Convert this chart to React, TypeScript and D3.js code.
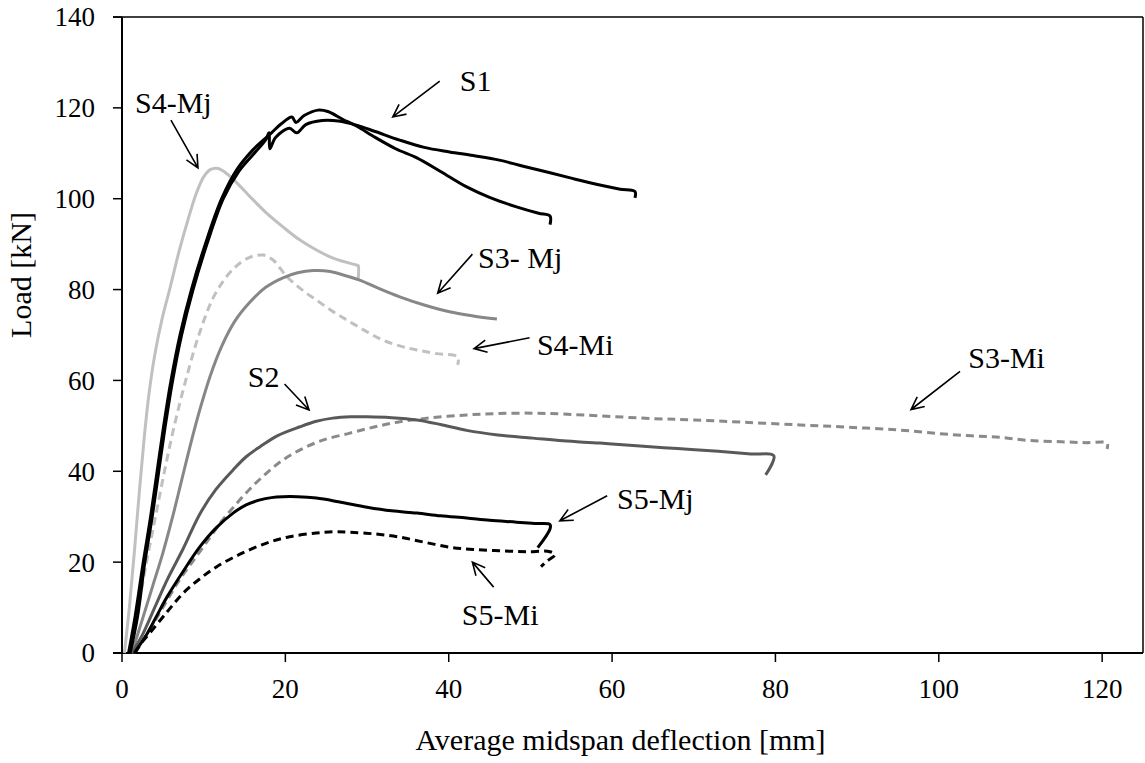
import React from "react";
import * as d3 from "d3";

type P = [number, number];

const xTicks = [0, 20, 40, 60, 80, 100, 120];
const yTicks = [0, 20, 40, 60, 80, 100, 120, 140];

const S1a: P[] = [[0.8,0],[1.6,8],[2.6,20],[3.5,30],[4.3,40],[5.1,50],[6,60],[7.1,70],[8.5,80],[10.2,90],[12.2,100],[14.1,106.5],[16,110.7],[17.3,112.9],[18.3,114.5],[19.5,116.5],[20.8,118],[21.3,116.8],[22.3,118.3],[24,119.5],[25.2,119.2],[27,117.5],[28.7,116],[31,113.5],[33.5,111],[36.1,109],[39,106],[42.2,102.6],[45,100.3],[48.3,98.2],[51,96.8],[52.4,96.2],[52.4,94.3]];
const S1b: P[] = [[1,0],[1.9,8],[2.8,20],[3.7,30],[4.5,40],[5.3,50],[6.2,60],[7.3,70],[8.7,80],[10.4,90],[12.4,100],[14.3,106],[16.2,110],[17.6,113],[18,114.5],[18.1,111],[18.8,113.5],[20.5,115.5],[21.4,114.5],[22.5,116.3],[24.5,117.2],[26.5,117.1],[28.7,116.2],[31,114.8],[34,112.9],[37,111.3],[40.1,110.3],[43,109.5],[46.2,108.5],[49,107.2],[52.4,105.7],[55.5,104.3],[58.5,103],[61,102.1],[62.8,101.6],[62.8,100.2]];
const S4Mj: P[] = [[0.3,0],[0.9,10],[1.5,22],[2.1,35],[2.7,47],[3.3,57],[4,65.5],[4.9,73.5],[5.9,80.5],[7,88.5],[8.1,95.5],[9.1,101.2],[10,104.8],[10.8,106.4],[11.6,106.7],[12.4,106.1],[14,103.6],[15.7,100.4],[17.6,97],[19.7,93.8],[21.7,91],[23.8,88.7],[26,86.8],[28.7,85.4],[28.9,85.3],[28.9,82]];
const S4Mi: P[] = [[1,0],[2,10],[3,20],[4.1,30],[5.2,40],[6.4,50],[7.8,60],[9.5,70.5],[11.4,79],[13.6,84.5],[15.5,87],[17.3,87.6],[18.5,86.5],[20.2,82.8],[22,80],[23.8,77.7],[25.8,75.2],[27.9,72.9],[30,70.7],[31.9,68.9],[34,67.6],[36.1,66.7],[38.5,65.9],[41.1,65.2],[41.1,63.4]];
const S3Mj: P[] = [[1.2,0],[2.6,8],[3.8,15],[5,22],[6.2,30],[7.3,38],[8.4,46],[9.6,54],[10.8,61],[12.2,67.5],[13.8,73],[15.7,77.3],[17.6,80.5],[19.7,82.6],[21.5,83.7],[23.4,84.2],[25.5,84],[27.3,83.1],[29.1,82.1],[31.5,80.2],[34,78.4],[37,76.6],[40.1,75.1],[43,74.2],[45.9,73.5]];
const S2: P[] = [[1.2,0],[2.5,4],[4,10],[5.5,16],[7.5,23],[9.5,30.5],[11.5,36],[13.6,40.3],[15.2,43.2],[16.9,45.4],[19,47.8],[21.8,49.8],[23.8,51],[25.8,51.7],[28,52],[30,52],[33,51.8],[36.1,51.3],[39,50.3],[42.2,49],[46,48],[50.3,47.3],[54,46.7],[58.5,46.2],[63,45.6],[68,45],[73,44.4],[77,43.8],[79.8,43.4],[78.8,39.2]];
const S3Mi: P[] = [[1.5,0],[3,4],[5,10],[7,16],[9,21],[10.8,25.5],[12.2,29],[13.6,32],[15.6,36],[17.7,39.6],[19.7,42.5],[21.8,44.7],[24.5,46.8],[27.9,48.4],[31,49.8],[34,50.9],[38,51.8],[42.2,52.4],[46,52.7],[50.3,52.8],[54,52.6],[58.5,52.2],[65,51.6],[70,51.3],[76,50.8],[83,50.2],[89,49.7],[95,49.1],[100,48.3],[104,47.8],[107.4,47.5],[111,46.8],[115,46.5],[118,46.3],[120.6,46.2],[120.6,44.9]];
const S5Mj: P[] = [[1.5,0],[3,4],[4.2,8],[5.5,12.3],[7.5,18],[9.5,23.3],[11.5,27.5],[13.6,30.8],[15.2,32.6],[16.9,33.7],[18.3,34.2],[19.7,34.4],[21.5,34.4],[23.8,34.1],[26.5,33.3],[30,32.1],[33,31.3],[36.1,30.8],[39,30.2],[42.2,29.7],[45,29.2],[48.3,28.8],[50.5,28.5],[52.4,28.3],[52.4,27.3],[50.9,23.2]];
const S5Mi: P[] = [[1.6,0],[2.5,2.5],[3.4,4.4],[5.5,9],[7.5,13.2],[9.5,16.3],[11.6,19],[14.5,21.8],[17.7,24.2],[20.5,25.6],[23.8,26.4],[26,26.7],[27.9,26.6],[31,26.2],[34,25.5],[37,24.4],[40.1,23.3],[43,22.8],[46.2,22.5],[49.5,22.3],[52.4,22.3],[53,21.6],[52.1,20.3],[51.3,19]];

const series = [
  { name: "S3-Mi", data: S3Mi, color: "#8a8a8a", width: 3, dash: "8,5" },
  { name: "S4-Mi", data: S4Mi, color: "#c0c0c0", width: 3, dash: "8,5" },
  { name: "S4-Mj", data: S4Mj, color: "#c0c0c0", width: 3, dash: "" },
  { name: "S3-Mj", data: S3Mj, color: "#878787", width: 3, dash: "" },
  { name: "S2", data: S2, color: "#595959", width: 3, dash: "" },
  { name: "S5-Mi", data: S5Mi, color: "#000000", width: 3, dash: "8,5" },
  { name: "S5-Mj", data: S5Mj, color: "#000000", width: 3, dash: "" },
  { name: "S1a", data: S1a, color: "#000000", width: 3, dash: "" },
  { name: "S1b", data: S1b, color: "#000000", width: 3, dash: "" },
];

// annotations in data units: label position, arrow tail, arrow head
const labels = ["S1", "S4-Mj", "S3- Mj", "S4-Mi", "S3-Mi", "S2", "S5-Mj", "S5-Mi"];
const labelPos: P[] = [[41.35,123.7],[1.59,118.9],[43.6,84.7],[50.8,65.7],[103.6,62.8],[15.4,58.6],[60.6,31.7],[41.6,6.2]];
const arrowTail: P[] = [[38.9,125.9],[5.99,117.3],[42.9,87.8],[49.9,69.4],[102.6,62.0],[19.9,59.2],[59.4,34.6],[45.5,14.5]];
const arrowHead: P[] = [[33.15,118.0],[9.3,106.8],[38.65,79.2],[43.1,67.0],[96.6,53.6],[22.9,53.5],[53.6,29.1],[42.9,20.0]];

const W = 1145, H = 763;
const M = { left: 122, top: 17, right: 1143, bottom: 653 };
const FONT = "'Liberation Serif', 'Times New Roman', serif";

export default function App() {
  const x = d3.scaleLinear().domain([0, 125]).range([M.left, M.right]);
  const y = d3.scaleLinear().domain([0, 140]).range([M.bottom, M.top]);
  const line = d3.line<P>().x(d => x(d[0])).y(d => y(d[1])).curve(d3.curveCatmullRom.alpha(0.5));

  const arrowPaths = arrowTail.map((t, i) => {
    const h = arrowHead[i];
    const tx = x(t[0]), ty = y(t[1]), hx = x(h[0]), hy = y(h[1]);
    const ang = Math.atan2(ty - hy, tx - hx);
    const L = 14, a = 0.45;
    const p1 = [hx + L * Math.cos(ang + a), hy + L * Math.sin(ang + a)];
    const p2 = [hx + L * Math.cos(ang - a), hy + L * Math.sin(ang - a)];
    return `M${tx},${ty}L${hx},${hy}M${p1[0]},${p1[1]}L${hx},${hy}L${p2[0]},${p2[1]}`;
  });

  return (
    <svg width={W} height={H} style={{ position: "absolute", left: 0, top: 0, background: "#fff" }} fontFamily={FONT}>
      <rect x={0} y={0} width={W} height={H} fill="#fff" />
      {/* frame */}
      <line x1={M.left - 9} x2={M.right} y1={M.top} y2={M.top} stroke="#000" strokeWidth={1.5} />
      <line x1={M.right} x2={M.right} y1={M.top} y2={M.bottom} stroke="#000" strokeWidth={1.5} />
      {/* axes */}
      <line x1={M.left} x2={M.left} y1={M.top} y2={M.bottom} stroke="#000" strokeWidth={2} />
      <line x1={M.left - 9} x2={M.right} y1={M.bottom} y2={M.bottom} stroke="#000" strokeWidth={2} />
      {yTicks.map(t => (
        <g key={"y" + t}>
          <line x1={M.left - 9} x2={M.left} y1={y(t)} y2={y(t)} stroke="#000" strokeWidth={1.5} />
          <text x={M.left - 27} y={y(t)} dy="0.35em" textAnchor="end" fontSize={27}>{t}</text>
        </g>
      ))}
      {xTicks.map(t => (
        <g key={"x" + t}>
          <line x1={x(t)} x2={x(t)} y1={M.bottom} y2={M.bottom + 9} stroke="#000" strokeWidth={1.5} />
          <text x={x(t)} y={M.bottom + 45} textAnchor="middle" fontSize={27}>{t}</text>
        </g>
      ))}
      <text x={(M.left + M.right) / 2 - 12} y={750} textAnchor="middle" fontSize={30}>Average midspan deflection [mm]</text>
      <text transform={`translate(31,${(M.top + M.bottom) / 2 - 60}) rotate(-90)`} textAnchor="middle" fontSize={30}>Load [kN]</text>
      {/* series */}
      {series.map(s => (
        <path key={s.name} d={line(s.data) || ""} fill="none" stroke={s.color} strokeWidth={s.width}
          strokeDasharray={s.dash || undefined} strokeLinejoin="round" />
      ))}
      {/* annotations */}
      {arrowPaths.map((d, i) => (
        <path key={"a" + i} d={d} fill="none" stroke="#000" strokeWidth={1.6} />
      ))}
      {labels.map((l, i) => (
        <text key={"l" + i} x={x(labelPos[i][0])} y={y(labelPos[i][1])} fontSize={30}>{l}</text>
      ))}
    </svg>
  );
}
